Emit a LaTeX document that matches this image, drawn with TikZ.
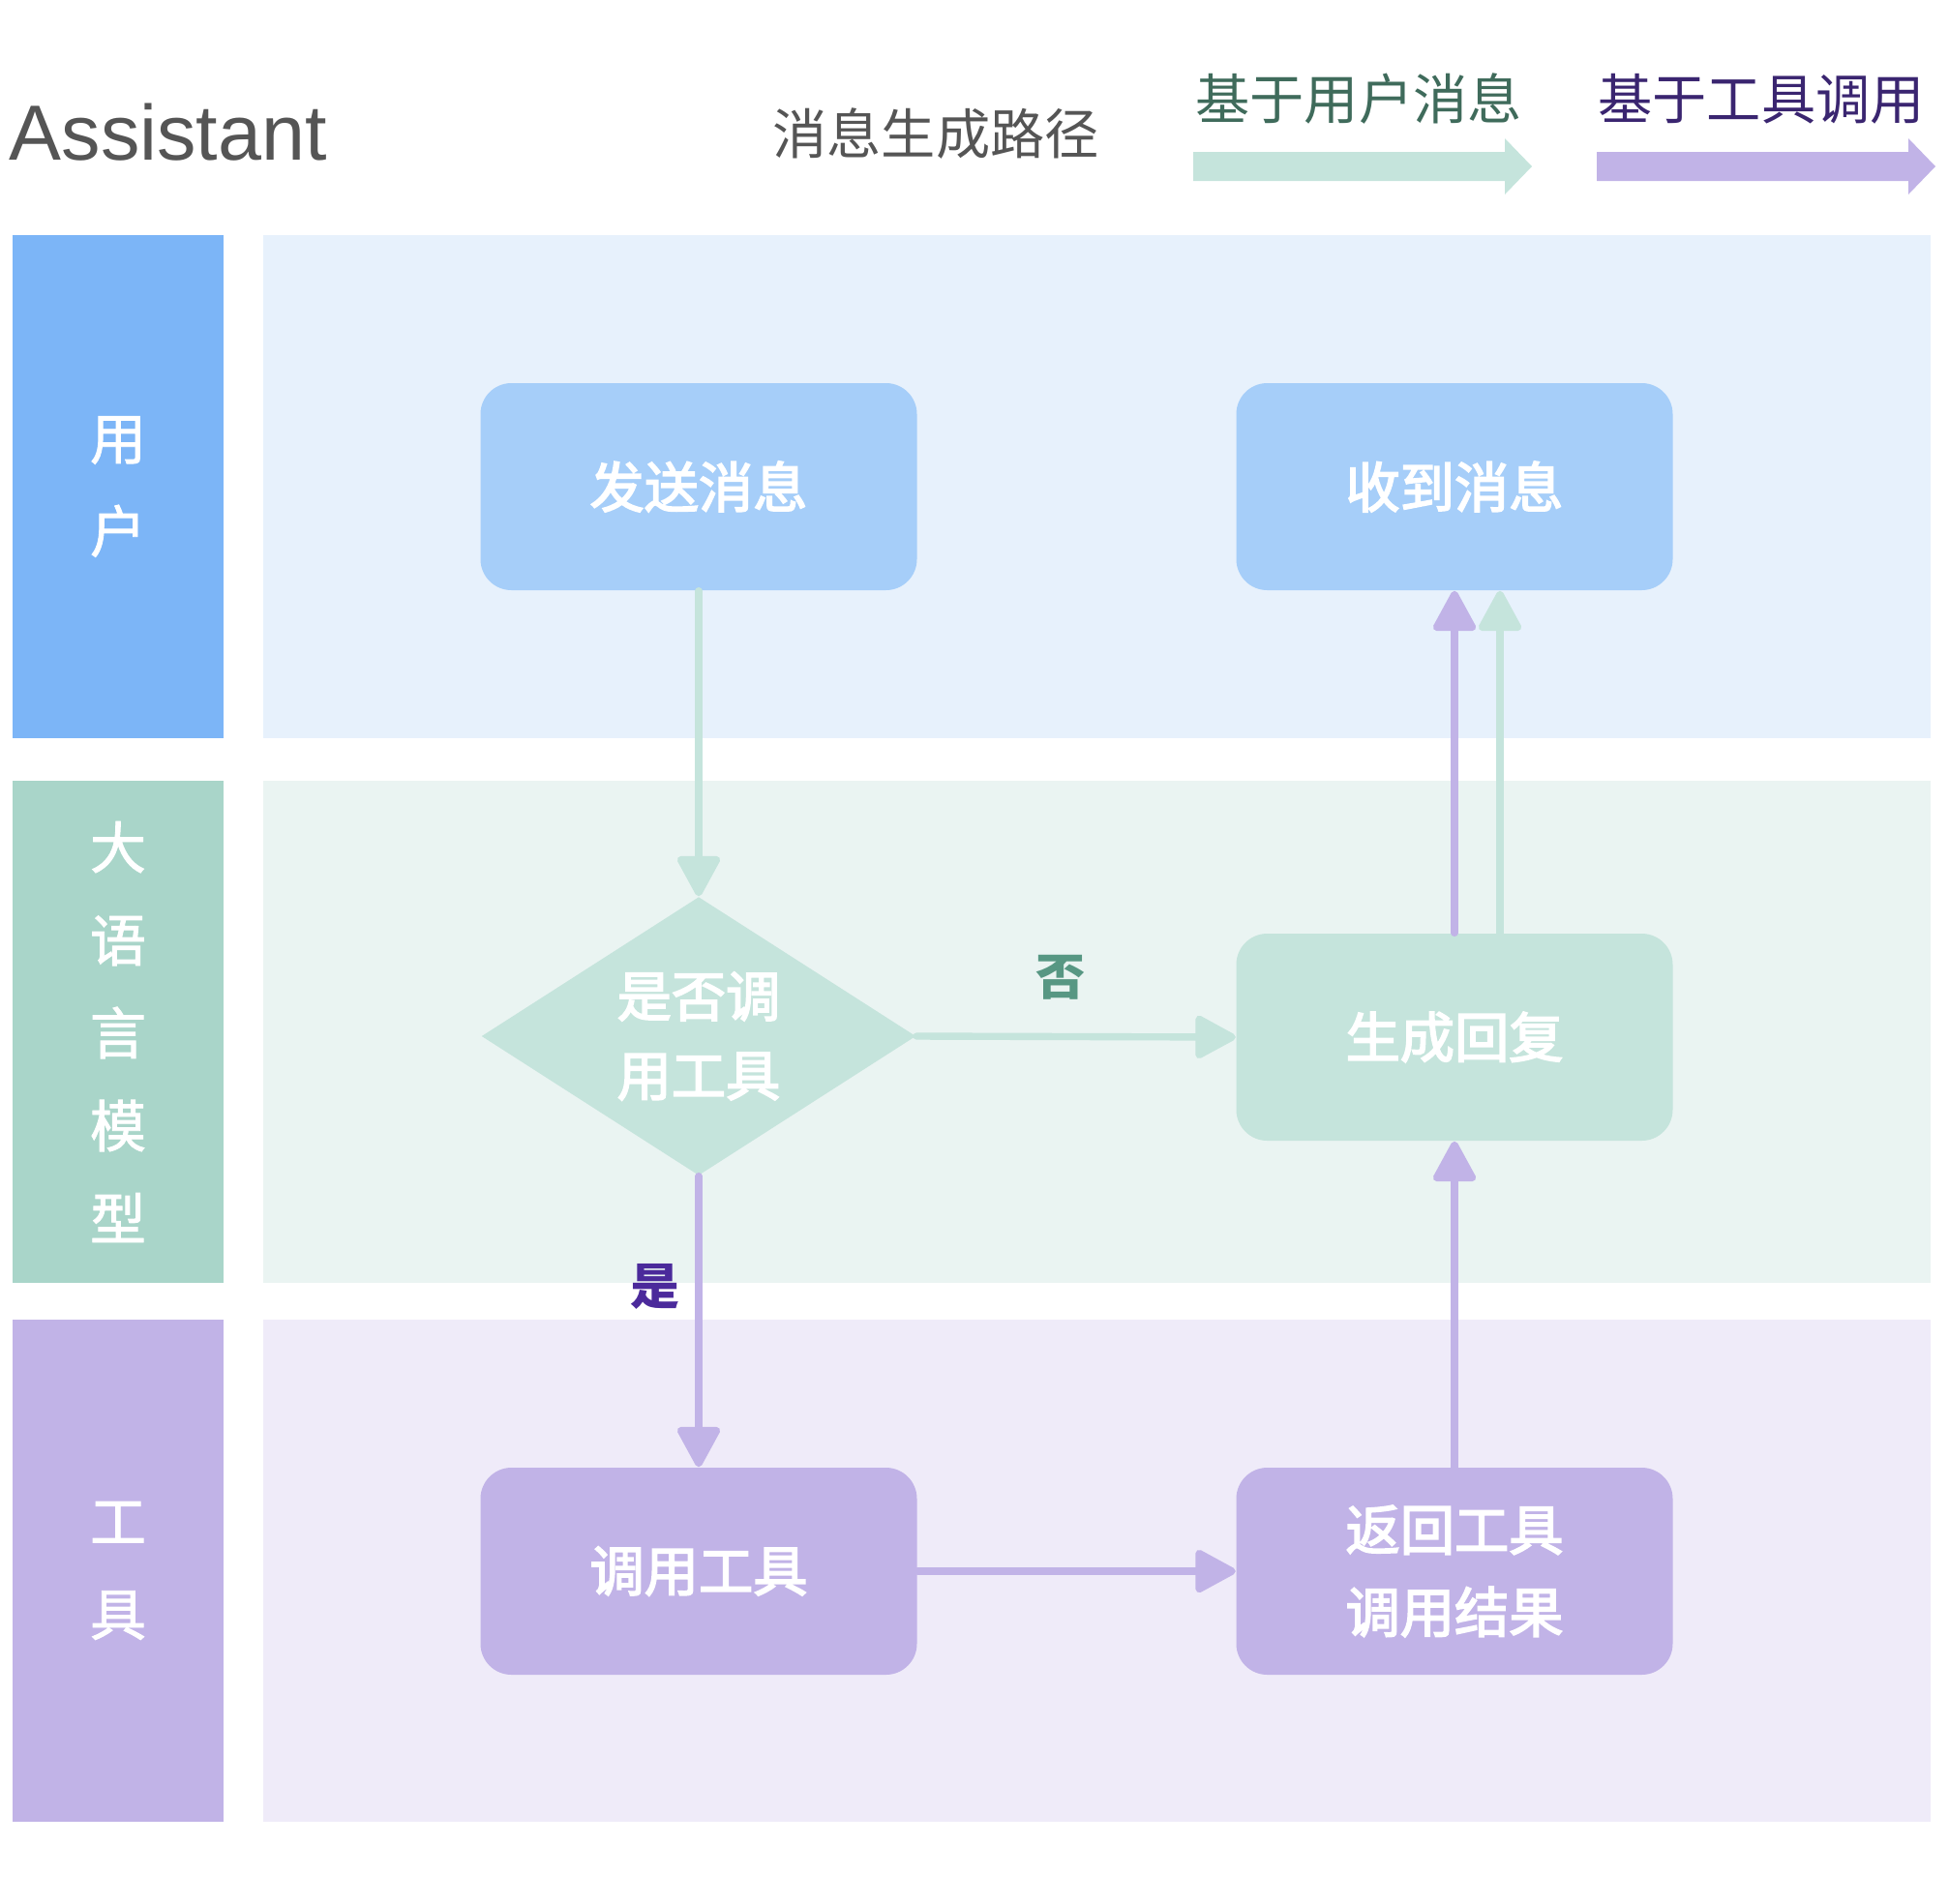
\documentclass[tikz,border=0pt]{standalone}
\usepackage{fontspec}
\setmainfont{Noto Sans CJK SC}
\newfontfamily\latinfont{Liberation Sans}
\newfontfamily\midfont[FakeBold=3]{Noto Sans CJK SC}
\newfontfamily\lanefont[FakeBold=1.5]{Noto Sans CJK SC}
\usepackage{tikz}
\usetikzlibrary{shapes.geometric, arrows.meta}
\definecolor{userhead}{RGB}{124, 181, 247}
\definecolor{userbg}{RGB}{231, 241, 252}
\definecolor{userbox}{RGB}{166, 206, 249}
\definecolor{llmhead}{RGB}{169, 213, 201}
\definecolor{llmbg}{RGB}{234, 244, 242}
\definecolor{llmbox}{RGB}{197, 228, 220}
\definecolor{toolhead}{RGB}{193, 179, 231}
\definecolor{toolbg}{RGB}{239, 235, 249}
\definecolor{toolbox}{RGB}{193, 179, 231}
\definecolor{titlegray}{RGB}{85, 85, 85}
\definecolor{legendgreen}{RGB}{63, 107, 91}
\definecolor{legendviolet}{RGB}{58, 37, 112}
\definecolor{nogreen}{RGB}{87, 151, 131}
\definecolor{yesviolet}{RGB}{75, 42, 155}

\begin{document}
\begin{tikzpicture}[
  lanehead/.style={minimum width=2.18cm, minimum height=5.2cm, inner sep=0pt, text=white, align=center, font=\lanefont\fontsize{16.5}{27.3}\selectfont},
  stepbox/.style={rounded corners=0.32cm, minimum width=4.51cm, minimum height=2.14cm, inner sep=0pt, text=white, align=center, font=\midfont\fontsize{16}{24}\selectfont},
  flowline/.style={line width=2.1pt, line cap=round, -{Triangle[width=13.5pt, length=13pt, round]}},
  edgelabel/.style={inner sep=0pt, font=\fontsize{14.5}{17}\selectfont\bfseries}
]
  \useasboundingbox (0, 0) rectangle (20.14, -19.68);

  % Header and legend
  \node[anchor=base west, inner sep=0pt, text=titlegray, font=\latinfont\fontsize{23}{27}\selectfont] (title) at (0.09, -1.65) {Assistant};
  \node[inner sep=0pt, text=titlegray, font=\fontsize{16}{19}\selectfont] (pathtitle) at (9.67, -1.38) {消息生成路径};
  \node[inner sep=0pt, text=legendgreen, font=\fontsize{16}{19}\selectfont] (usertitle) at (14.04, -1.02) {基于用户消息};
  \node[inner sep=0pt, text=legendviolet, font=\fontsize{16}{19}\selectfont] (tooltitle) at (18.20, -1.02) {基于工具调用};
  \fill[llmbox] (12.33, -1.57) -- (15.55, -1.57) -- (15.55, -1.43) -- (15.83, -1.72) -- (15.55, -2.01) -- (15.55, -1.87) -- (12.33, -1.87) -- cycle;
  \fill[toolbox] (16.50, -1.57) -- (19.72, -1.57) -- (19.72, -1.43) -- (20.00, -1.72) -- (19.72, -2.01) -- (19.72, -1.87) -- (16.50, -1.87) -- cycle;

  % Swimlanes
  \fill[userbg] (2.72, -2.43) rectangle (19.95, -7.63);
  \fill[llmbg] (2.72, -8.07) rectangle (19.95, -13.26);
  \fill[toolbg] (2.72, -13.64) rectangle (19.95, -18.83);
  \node[lanehead, fill=userhead] (userlane) at (1.22, -5.03) {用\\户};
  \node[lanehead, fill=llmhead, minimum height=5.19cm] (llmlane) at (1.22, -10.665) {大\\语\\言\\模\\型};
  \node[lanehead, fill=toolhead, minimum height=5.19cm] (toollane) at (1.22, -16.235) {工\\具};

  % Steps
  \node[stepbox, fill=userbox] (send) at (7.22, -5.03) {发送消息};
  \node[stepbox, fill=userbox] (recv) at (15.03, -5.03) {收到消息};
  \node[diamond, aspect=1.56, fill=llmbox, minimum width=4.49cm, minimum height=2.88cm, inner sep=0pt, text=white, align=center, font=\midfont\fontsize{16}{23.3}\selectfont] (decide) at (7.22, -10.71) {是否调\\用工具};
  \node[stepbox, fill=llmbox] (reply) at (15.03, -10.72) {生成回复};
  \node[stepbox, fill=toolbox] (call) at (7.22, -16.24) {调用工具};
  \node[stepbox, fill=toolbox, font=\midfont\fontsize{16}{24.2}\selectfont] (result) at (15.03, -16.24) {返回工具\\调用结果};

  % Connectors
  \draw[flowline, draw=llmbox] (send.south) -- (decide.north);
  \draw[flowline, draw=llmbox] (decide.east) -- (reply.west)
    node[edgelabel, text=nogreen, pos=0.45, yshift=0.61cm] (nolabel) {否};
  \draw[flowline, draw=toolbox] (decide.south) -- (call.north)
    node[edgelabel, text=yesviolet, pos=0.38, xshift=-0.45cm] (yeslabel) {是};
  \draw[flowline, draw=toolbox] (call.east) -- (result.west);
  \draw[flowline, draw=toolbox] (result.north) -- (reply.south);
  \draw[flowline, draw=toolbox] (reply.north) -- (recv.south);
  \draw[flowline, draw=llmbox] ([xshift=0.47cm]reply.north) -- ([xshift=0.47cm]recv.south);
\end{tikzpicture}
\end{document}
